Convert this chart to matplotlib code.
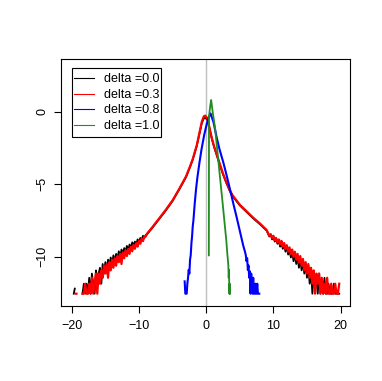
import numpy as np
import matplotlib as mpl
mpl.use('Agg')
import matplotlib.pyplot as plt
from matplotlib.patches import Rectangle

mpl.rcParams['font.family'] = ['Liberation Sans', 'DejaVu Sans']
mpl.rcParams['font.size'] = 9

# log-density curves
labels = ['delta =0.0', 'delta =0.3', 'delta =0.8', 'delta =1.0']
colours = ['black', 'red', 'blue', 'forestgreen']

# delta = 0.0 (black, mostly under the red one)
black_iso_x = [-19.7, -19.55]
black_iso_y = [-12.55, -12.2]
black_left_y = [-12.55, -11.86, -12.55, -11.86, -12.55, -11.45, -12.55, -11.16, -11.86, -12.55,
                -10.94, -11.45, -11.16, -10.76, -11.86, -10.50, -11.16, -10.37, -10.94, -10.20,
                -10.62, -10.05, -10.50, -9.90, -10.37, -9.80, -10.20, -9.62, -10.05, -9.50,
                -9.85, -9.40, -9.70, -9.25, -9.55, -9.15, -9.40, -9.00, -9.25, -8.95,
                -9.15, -8.80, -9.00, -8.70, -8.85, -8.55, -8.70, -8.50]
black_mid_x = [-8.8, -8.0, -7.0, -6.0, -5.0, -4.0, -3.0, -2.4, -2.0, -1.4, -1.0, -0.64, -0.35,
               -0.15, 0.2, 0.5, 0.84, 1.2, 1.58, 2.0, 2.5, 3.0, 3.56, 4.0, 5.0, 6.0, 7.0, 8.0, 9.0]
black_mid_y = [-8.45, -8.0, -7.4, -6.8, -6.15, -5.35, -4.5, -3.8, -3.3, -2.35, -1.5, -0.75, -0.45,
               -0.4, -0.55, -1.15, -1.85, -2.45, -3.0, -3.6, -4.3, -4.9, -5.5, -5.85, -6.45,
               -6.9, -7.35, -7.75, -8.2]
black_right_y = [-8.4, -8.6, -8.45, -8.8, -8.6, -8.95, -8.75, -9.1, -8.9, -9.3,
                 -9.0, -9.45, -9.15, -9.65, -9.3, -9.85, -9.5, -10.05, -9.65, -10.31,
                 -9.8, -10.5, -9.95, -10.76, -10.15, -10.94, -10.37, -11.16, -10.5, -11.45,
                 -10.62, -11.86, -10.94, -12.55, -11.16, -11.86, -11.45, -12.55, -11.16, -12.55,
                 -11.86, -12.55, -11.45, -12.55, -12.55, -11.86, -12.55, -12.55, -12.55, -11.86,
                 -12.55, -12.55, -12.55, -12.55]

# delta = 0.3 (red)
red_iso_x = [-19.4, -19.3]
red_iso_y = [-12.55, -12.55]
red_left_y = [-12.55, -12.55, -11.86, -12.55, -12.55, -11.86, -12.55, -11.45, -12.55, -11.86,
              -11.16, -12.55, -11.16, -11.86, -10.94, -11.45, -10.62, -11.16, -10.50, -11.45,
              -10.37, -10.94, -10.20, -10.76, -10.10, -10.62, -9.95, -10.37, -9.80, -10.50,
              -9.70, -10.10, -9.55, -9.95, -9.45, -9.80, -9.30, -9.62, -9.18, -9.45,
              -9.05, -9.30, -8.90, -9.10, -8.75, -8.92, -8.60, -8.60]
red_mid_x = [-8.8, -8.0, -7.0, -6.0, -5.0, -4.0, -3.0, -2.4, -2.0, -1.4, -1.0, -0.64, -0.35,
             -0.15, 0.2, 0.5, 0.84, 1.2, 1.58, 2.0, 2.5, 3.0, 3.56, 4.0, 5.0, 6.0, 7.0, 8.0, 9.0]
red_mid_y = [-8.4, -7.95, -7.35, -6.75, -6.1, -5.3, -4.45, -3.75, -3.25, -2.3, -1.45, -0.65, -0.3,
             -0.25, -0.45, -1.1, -1.8, -2.4, -2.95, -3.55, -4.25, -4.85, -5.45, -5.8, -6.4,
             -6.85, -7.3, -7.7, -8.15]
red_right_y = [-8.35, -8.55, -8.45, -8.7, -8.55, -8.85, -8.7, -9.0, -8.8, -9.15,
               -8.9, -9.3, -9.05, -9.45, -9.2, -9.65, -9.35, -9.8, -9.5, -10.0,
               -9.65, -10.2, -9.8, -10.4, -9.95, -10.62, -10.15, -10.94, -10.37, -11.16,
               -10.5, -11.45, -10.76, -11.86, -10.94, -12.55, -11.16, -11.86, -11.16, -12.55,
               -11.45, -12.55, -11.86, -12.55, -11.45, -12.55, -12.55, -11.86, -12.55, -12.55,
               -11.86, -12.55, -12.55, -11.86]

# delta = 0.8 (blue)
blue_x = [-3.2, -3.1, -3.0, -2.9, -2.8, -2.7, -2.6, -2.5, -2.4, -2.3, -2.2, -2.1, -2.0, -1.9,
          -1.7, -1.5, -1.3, -1.0, -0.7, -0.3, 0.1, 0.4, 0.65, 1.09, 1.58, 2.0, 2.56, 3.0, 3.5,
          4.05, 4.5, 5.0, 5.5, 5.8, 5.9, 6.0, 6.1, 6.2, 6.3, 6.4, 6.5, 6.6, 6.7, 6.8, 6.9,
          7.0, 7.1, 7.2, 7.3, 7.4, 7.5, 7.6, 7.7, 7.8, 7.9]
blue_y = [-11.7, -12.55, -12.55, -12.55, -11.86, -11.45, -10.9, -11.16, -10.2, -9.9, -9.1,
          -8.6, -7.9, -7.5, -6.3, -5.3, -4.5, -3.5, -2.6, -1.6, -0.8, -0.35, -0.1, -0.7,
          -1.8, -2.6, -3.5, -4.3, -5.25, -6.35, -7.2, -8.2, -9.2, -9.7, -9.9, -10.3, -10.1,
          -10.9, -10.6, -11.45, -11.0, -12.55, -11.16, -11.86, -12.55, -11.45, -12.55,
          -12.55, -11.86, -12.55, -12.55, -11.86, -12.55, -12.55, -12.55]

# delta = 1.0 (green)
green_x = [0.40, 0.42, 0.6, 0.74, 1.0, 1.33, 1.7, 2.07, 2.45, 2.81, 3.0, 3.16, 3.3,
           3.35, 3.4, 3.45, 3.5, 3.55]
green_y = [-9.9, -0.3, 0.4, 0.83, -0.1, -1.13, -2.85, -4.57, -6.3, -8.0, -8.9, -9.86,
           -10.6, -11.45, -10.9, -12.55, -11.86, -12.55]


def join(iso_x, iso_y, left_y, left_lim, mid_x, mid_y, right_y, right_lim):
    lx = np.linspace(left_lim[0], left_lim[1], len(left_y))
    rx = np.linspace(right_lim[0], right_lim[1], len(right_y))
    x = np.concatenate([iso_x, [np.nan], lx, mid_x, rx])
    y = np.concatenate([iso_y, [np.nan], left_y, mid_y, right_y])
    return x, y


bx, by = join(black_iso_x, black_iso_y, black_left_y, (-18.4, -9.0),
              black_mid_x, black_mid_y, black_right_y, (9.2, 19.8))
rx, ry = join(red_iso_x, red_iso_y, red_left_y, (-18.4, -9.0),
              red_mid_x, red_mid_y, red_right_y, (9.2, 19.8))

fig = plt.figure(figsize=(3.82, 3.81), dpi=100)
ax = fig.add_axes([61 / 382, 75 / 381, 289 / 382, 247 / 381])

ax.axvline(0, color='#BEBEBE', linewidth=1.0, zorder=1)
ax.plot(bx, by, color=colours[0], linewidth=1.3, label=labels[0], zorder=2)
ax.plot(rx, ry, color=colours[1], linewidth=1.6, label=labels[1], zorder=3)
ax.plot(blue_x, blue_y, color=colours[2], linewidth=1.5, label=labels[2], zorder=4)
ax.plot(green_x, green_y, color=colours[3], linewidth=1.3, label=labels[3], zorder=5)

ax.set_xlim(-21.6, 21.4)
ax.set_ylim(-13.4, 3.66)
ax.set_xticks([-20, -10, 0, 10, 20])
ax.set_yticks([-10, -5, 0])
ax.tick_params(direction='out', length=5, width=0.8, pad=5)
ax.tick_params(axis='y', pad=4)
for t in ax.get_yticklabels():
    t.set_rotation(90)
    t.set_va('center')
for s in ax.spines.values():
    s.set_linewidth(0.8)

# legend box drawn by hand (R style: tight sides, roomy top and bottom)
ax.add_patch(Rectangle((0.037, 0.685), 0.309, 0.277, transform=ax.transAxes,
                       facecolor='white', edgecolor='black', linewidth=0.8, zorder=6))
leg = ax.legend(loc='center left', bbox_to_anchor=(0.037, 0.823), borderaxespad=0,
                frameon=False, fontsize=9, handlelength=1.6, handletextpad=0.75,
                labelspacing=0.28, borderpad=0.2)
leg.set_zorder(7)
for line in leg.get_lines():
    line.set_linewidth(0.8)

plt.savefig('out.png', dpi=100)
